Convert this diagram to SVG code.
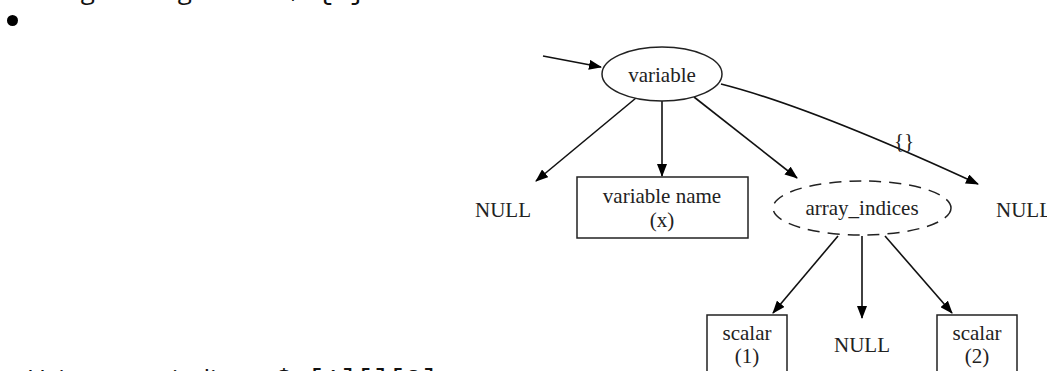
<svg xmlns="http://www.w3.org/2000/svg" width="1047" height="371" viewBox="0 0 1047 371">
<defs>
<style>
.pg{font-family:"Open Sans","Noto Sans",sans-serif;font-size:26px;fill:#111}
.cd{font-family:"Liberation Mono",monospace;font-size:27px}
.lb{font-family:"Liberation Serif",serif;font-size:21px;fill:#222;text-anchor:middle}
.nd{fill:#fff;stroke:#222;stroke-width:1.5}
.ed{fill:none;stroke:#111;stroke-width:1.6}
</style>
<marker id="ah" markerWidth="13" markerHeight="10" refX="12" refY="5" orient="auto" markerUnits="userSpaceOnUse">
<path d="M0,0 L13,5 L0,10 Z" fill="#000"/>
</marker>
</defs>
<rect width="1047" height="371" fill="#fff"/>
<text class="pg" x="27" y="-1">Using a string index: <tspan class="cd" dx="6">$a{0}</tspan></text>
<circle cx="12.5" cy="20.5" r="5.5" fill="#000"/>
<text class="pg" x="27" y="387.5">Using array indices: <tspan class="cd" dx="6">$a[1][][2]</tspan></text>

<g id="connectors">
<path class="ed" d="M543,56 L601,67" marker-end="url(#ah)"/>
<path class="ed" d="M636,98 L536,181" marker-end="url(#ah)"/>
<path class="ed" d="M662,101 L662,176" marker-end="url(#ah)"/>
<path class="ed" d="M694,97 L797,178" marker-end="url(#ah)"/>
<path class="ed" d="M721,84 C800,104 900,148 978,184" marker-end="url(#ah)"/>
<text class="lb" x="904" y="148">{}</text>
<path class="ed" d="M838,236 L773,313" marker-end="url(#ah)"/>
<path class="ed" d="M862,236 L862,318" marker-end="url(#ah)"/>
<path class="ed" d="M885,236 L952,313" marker-end="url(#ah)"/>
</g>

<g id="variable">
<ellipse class="nd" cx="662" cy="74" rx="60" ry="27"/>
<text class="lb" x="662" y="82">variable</text>
</g>
<g id="null1">
<text class="lb" x="503" y="217">NULL</text>
</g>
<g id="varname">
<rect class="nd" x="577" y="177" width="171" height="61"/>
<text class="lb" x="662" y="203">variable name</text>
<text class="lb" x="662" y="227">(x)</text>
</g>
<g id="array_indices">
<ellipse class="nd" cx="862" cy="208" rx="89" ry="27" stroke-dasharray="12,8"/>
<text class="lb" x="862" y="215">array_indices</text>
</g>
<g id="null2">
<text class="lb" x="1024" y="217">NULL</text>
</g>
<g id="scalar1">
<rect class="nd" x="707" y="315" width="80" height="70"/>
<text class="lb" x="747" y="340">scalar</text>
<text class="lb" x="747" y="363">(1)</text>
</g>
<g id="null3">
<text class="lb" x="862" y="352">NULL</text>
</g>
<g id="scalar2">
<rect class="nd" x="937" y="315" width="80" height="70"/>
<text class="lb" x="977" y="340">scalar</text>
<text class="lb" x="977" y="363">(2)</text>
</g>
</svg>
